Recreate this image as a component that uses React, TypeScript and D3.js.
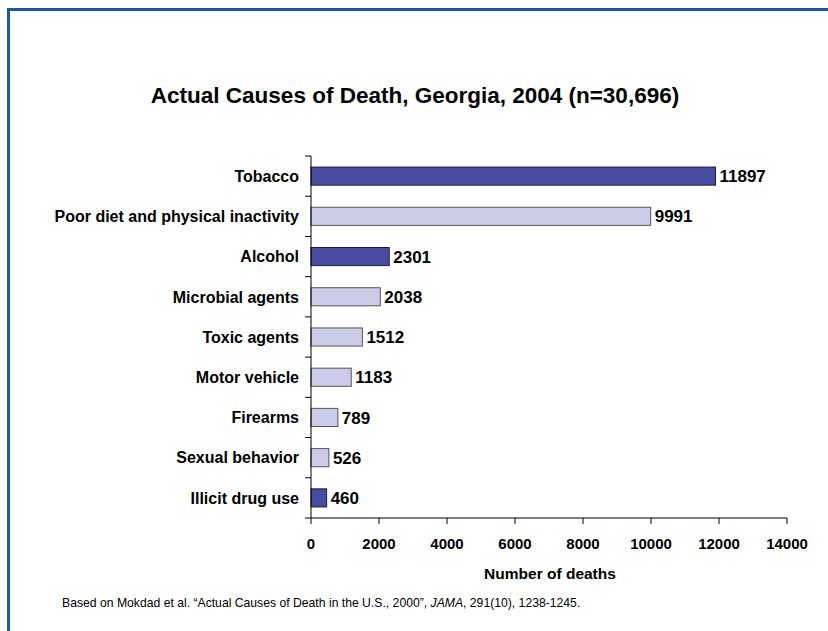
import React from "react";
import * as d3 from "d3";

const categories = [
  "Tobacco",
  "Poor diet and physical inactivity",
  "Alcohol",
  "Microbial agents",
  "Toxic agents",
  "Motor vehicle",
  "Firearms",
  "Sexual behavior",
  "Illicit drug use",
];
const deaths = [11897, 9991, 2301, 2038, 1512, 1183, 789, 526, 460];
const highlighted = [true, false, true, false, false, false, false, false, true];
const xTicks = [0, 2000, 4000, 6000, 8000, 10000, 12000, 14000];

const W = 828;
const H = 631;
const FONT = "'Liberation Sans', Arial, Helvetica, sans-serif";

export default function App() {
  const x = d3.scaleLinear().domain([0, 14000]).range([311, 787]);
  const y = d3.scaleBand().domain(categories).range([156, 518]).paddingInner(0.55).paddingOuter(0.275);
  const step = y.step();
  const bounds = d3.range(categories.length).map((i) => 156 + i * step);

  return (
    <div style={{ position: "absolute", left: 0, top: 0 }}>
      <svg width={W} height={H} style={{ display: "block", fontFamily: FONT }}>
        <rect x={0} y={0} width={W} height={H} fill="#ffffff" />
        <line x1={7} y1={9.5} x2={W} y2={9.5} stroke="#1d5a97" strokeWidth={3} />
        <line x1={8.5} y1={8} x2={8.5} y2={H} stroke="#1d5a97" strokeWidth={3} />
        <text x={415} y={103} textAnchor="middle" fontSize={22.5} fontWeight="bold" fill="#000">
          Actual Causes of Death, Georgia, 2004 (n=30,696)
        </text>
        {categories.map((c, i) => (
          <g key={c}>
            <rect
              x={x(0)}
              y={y(c)!}
              width={x(deaths[i]) - x(0)}
              height={y.bandwidth()}
              fill={highlighted[i] ? "#474ca0" : "#ccccE8"}
              stroke={highlighted[i] ? "#1e1e3c" : "#555555"}
              strokeWidth={1}
            />
            <text
              x={x(deaths[i]) + 4}
              y={y(c)! + y.bandwidth() / 2}
              dy="0.36em"
              fontSize={17}
              fontWeight="bold"
              fill="#000"
            >
              {deaths[i]}
            </text>
            <text
              x={299}
              y={y(c)! + y.bandwidth() / 2}
              dy="0.36em"
              textAnchor="end"
              fontSize={16}
              fontWeight="bold"
              fill="#000"
            >
              {c}
            </text>
          </g>
        ))}
        {/* y axis */}
        <line x1={311} y1={156} x2={311} y2={518} stroke="#000" strokeWidth={1} />
        {bounds.map((b, i) => (
          <line key={i} x1={305} y1={b} x2={311} y2={b} stroke="#000" strokeWidth={1} />
        ))}
        {/* x axis */}
        <line x1={305} y1={518} x2={787} y2={518} stroke="#000" strokeWidth={1} />
        {xTicks.map((t) => (
          <g key={t}>
            <line x1={x(t)} y1={518} x2={x(t)} y2={524} stroke="#000" strokeWidth={1} />
            <text x={x(t)} y={549} textAnchor="middle" fontSize={15} fontWeight="bold" fill="#000">
              {t}
            </text>
          </g>
        ))}
        <text x={550} y={579} textAnchor="middle" fontSize={15.5} fontWeight="bold" fill="#000">
          Number of deaths
        </text>
        <text x={62} y={607} fontSize={12.2} fill="#000">
          Based on Mokdad et al. “Actual Causes of Death in the U.S., 2000”, <tspan fontStyle="italic">JAMA</tspan>, 291(10), 1238-1245.
        </text>
      </svg>
    </div>
  );
}
